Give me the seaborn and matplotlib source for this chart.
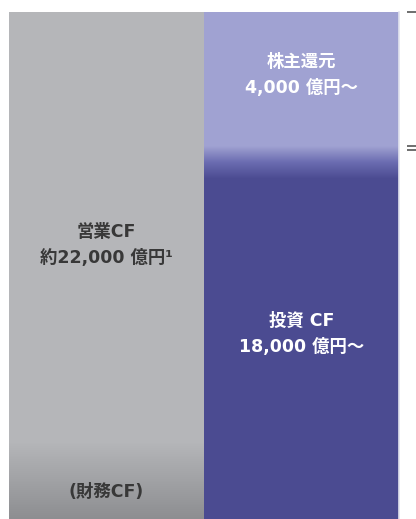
import numpy as np
import pandas as pd
import matplotlib
matplotlib.use('Agg')
import matplotlib.pyplot as plt
import seaborn as sns
from matplotlib.colors import LinearSegmentedColormap

# bar columns and segment shares (% of bar height)
columns = ['資金源', '資金使途']
bottom_names = ['(財務CF)', '投資 CF\n18,000 億円～']
top_names = ['営業CF\n約22,000 億円¹', '株主還元\n4,000 億円～']
bottom_share = [15, 71]
top_share = [85, 29]
label_y = [[5.3, 54], [36.5, 87.6]]
right_marks = [100, 73.6, 72.8]

top_colors = ['#b5b6b9', '#a0a2d2']
bottom_colors = ['#b5b6b9', '#4b4b91']
text_colors = [['#383838', '#383838'], ['#ffffff', '#ffffff']]

df = pd.DataFrame({'col': columns,
                   'bottom': bottom_share,
                   'total': np.array(bottom_share) + np.array(top_share)})

sns.set_style('white')
plt.rcParams['font.family'] = ['DejaVu Sans', 'Noto Sans CJK JP']

fig = plt.figure(figsize=(4.16, 5.19), dpi=100)
ax = fig.add_axes([9 / 416, 0, 390 / 416, 1 - 12 / 519])

# stacked bars: totals first, bottom segments on top of them
sns.barplot(data=df, x='col', y='total', hue='col', palette=top_colors,
            width=1.0, legend=False, ax=ax, linewidth=0, saturation=1)
sns.barplot(data=df, x='col', y='bottom', hue='col', palette=bottom_colors,
            width=1.0, legend=False, ax=ax, linewidth=0, saturation=1)

ax.set_xlabel('')
ax.set_ylabel('')
ax.set_xticks([])
ax.set_yticks([])
for s in ['top', 'left', 'bottom']:
    ax.spines[s].set_visible(False)
ax.spines['right'].set_color('#e2e3ee')
ax.spines['right'].set_linewidth(1.2)
ax.spines['right'].set_zorder(6)

# soft shading: financing CF gets darker to the bottom, and the purple boundary blends
grad = np.linspace(0, 1, 256).reshape(-1, 1)
cm_gray = LinearSegmentedColormap.from_list('g', ['#8d8e91', '#b5b6b9'])
im1 = ax.imshow(grad, cmap=cm_gray, aspect='auto', origin='lower',
                extent=[-0.5, 0.5, 0, bottom_share[0]], zorder=3)
im1.set_clip_path(ax.patches[2])
b = bottom_share[1]
cm_purple = LinearSegmentedColormap.from_list('p', ['#4b4b91', '#6a6bb0', '#a0a2d2'])
im2 = ax.imshow(grad, cmap=cm_purple, aspect='auto', origin='lower',
                extent=[0.5, 1.5, b - 4, b + 2.5], zorder=3)
im2.set_clip_path(ax.patches[1])
ax.set_xlim(-0.5, 1.5)
ax.set_ylim(0, 100)

for i in range(2):
    ax.text(i, label_y[i][0], bottom_names[i], ha='center', va='center',
            fontsize=12.5, fontweight='bold', color=text_colors[i][0],
            linespacing=1.6, zorder=5)
    ax.text(i, label_y[i][1], top_names[i], ha='center', va='center',
            fontsize=12.5, fontweight='bold', color=text_colors[i][1],
            linespacing=1.6, zorder=5)

# small marks cut off at the right edge
sec = ax.secondary_yaxis(1.0205)
sec.set_yticks(right_marks)
sec.set_yticklabels([])
sec.tick_params(length=7, width=1.2, color='#555555', direction='out')
sec.spines['right'].set_visible(False)

fig.savefig('out.png', dpi=100)
